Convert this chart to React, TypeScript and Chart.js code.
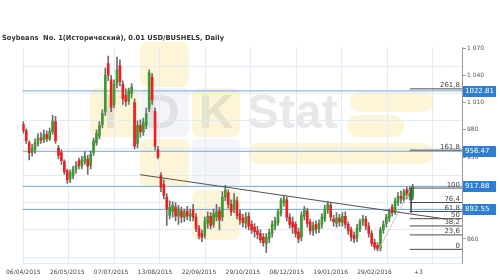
import React, { useEffect, useRef } from 'react';
import { Chart, registerables } from 'chart.js';

Chart.register(...registerables);

const chartTitle = 'Soybeans  No. 1(Исторический), 0.01 USD/BUSHELS, Daily';

// x tick labels (one every 15 candles)
const dateLabels = ['06/04/2015', '26/05/2015', '07/07/2015', '13/08/2015', '22/09/2015', '29/10/2015', '08/12/2015', '19/01/2016', '29/02/2016', '+3'];
const dateLabelIdx = [0, 15, 30, 45, 60, 75, 90, 105, 120, 135];

// candles
const opens = [986, 979, 966, 955, 958, 965, 971, 969, 975, 970, 978, 989, 960, 955, 945, 935, 926, 929, 937, 946, 940, 945, 948, 941, 955, 966, 973, 986, 1000, 1053, 1035, 1008, 1030, 1051, 1030, 1018, 1012, 1020, 1010, 965, 985, 978, 985, 1003, 1038, 1000, 958, 930, 920, 906, 886, 890, 895, 885, 891, 884, 891, 885, 892, 884, 872, 866, 864, 877, 885, 876, 884, 891, 884, 906, 911, 898, 893, 902, 888, 883, 877, 885, 876, 873, 869, 866, 862, 855, 860, 866, 874, 878, 888, 900, 903, 884, 879, 876, 868, 862, 885, 891, 879, 869, 876, 871, 876, 882, 892, 897, 882, 877, 883, 878, 885, 876, 870, 864, 861, 871, 879, 882, 874, 866, 856, 853, 850, 870, 877, 883, 895, 890, 900, 907, 903, 914, 907, 906];
const highs = [989, 981, 968, 964, 970, 976, 977, 980, 979, 982, 996, 995, 963, 958, 947, 937, 936, 940, 945, 949, 951, 956, 952, 957, 971, 980, 989, 1002, 1048, 1061, 1040, 1035, 1060, 1057, 1034, 1025, 1026, 1031, 1014, 990, 991, 993, 1004, 1046, 1042, 1004, 962, 933, 925, 910, 902, 901, 900, 897, 895, 893, 896, 893, 898, 888, 875, 870, 884, 890, 889, 893, 898, 895, 912, 919, 914, 903, 910, 906, 892, 887, 889, 889, 880, 877, 874, 870, 866, 866, 871, 880, 884, 893, 905, 908, 906, 888, 884, 879, 872, 890, 896, 894, 882, 879, 880, 881, 888, 897, 901, 900, 886, 889, 887, 889, 890, 879, 873, 868, 876, 882, 886, 885, 878, 869, 860, 856, 873, 880, 887, 893, 898, 905, 911, 913, 915, 917, 917, 920];
const lows = [976, 965, 947, 951, 954, 962, 965, 966, 967, 968, 975, 965, 948, 942, 931, 921, 922, 926, 932, 937, 937, 942, 931, 937, 952, 963, 970, 982, 996, 1034, 1000, 1004, 1026, 1028, 1008, 1006, 1008, 1015, 959, 960, 972, 974, 981, 1000, 1008, 958, 948, 912, 904, 875, 882, 884, 880, 876, 878, 879, 881, 880, 880, 868, 860, 857, 861, 872, 871, 873, 880, 870, 880, 902, 894, 886, 889, 882, 876, 873, 872, 870, 866, 862, 860, 856, 852, 845, 856, 862, 870, 875, 885, 896, 880, 872, 866, 862, 856, 858, 881, 873, 865, 864, 866, 867, 872, 879, 888, 880, 874, 873, 874, 874, 872, 865, 858, 856, 857, 868, 875, 870, 862, 852, 848, 847, 847, 866, 873, 879, 885, 887, 897, 899, 900, 904, 903, 903];
const closes = [979, 968, 955, 960, 966, 971, 969, 975, 970, 978, 989, 968, 952, 946, 934, 925, 933, 937, 941, 941, 947, 951, 940, 953, 968, 976, 985, 998, 1040, 1040, 1005, 1030, 1046, 1033, 1014, 1011, 1022, 1027, 962, 985, 978, 988, 998, 1043, 1013, 962, 950, 917, 908, 893, 895, 897, 885, 893, 884, 890, 885, 888, 884, 871, 863, 862, 880, 885, 875, 888, 890, 881, 906, 914, 898, 890, 903, 886, 881, 878, 884, 874, 870, 868, 865, 859, 856, 862, 867, 876, 880, 889, 902, 904, 884, 876, 873, 866, 860, 886, 892, 877, 869, 875, 871, 877, 884, 893, 898, 884, 879, 883, 879, 885, 876, 869, 862, 860, 872, 879, 882, 874, 866, 855, 851, 849, 870, 876, 884, 890, 889, 902, 907, 904, 912, 908, 914, 917.88];

// marked price levels (blue lines + labels)
const priceLevels = [1022.81, 956.47, 917.88, 892.55];

// fibonacci tool
const fibLow = 848.6;
const fibHigh = 916.0;
const fibRatios = [0, 23.6, 38.2, 50, 61.8, 76.4, 100, 161.8, 261.8];
const fibStartIdx = 132.0;
const fibAnchorIdx = 132.5;
const fibLowIdx = 121.4;

// trend line
const trendStart = { x: 39.9, y: 930.7 };
const trendEnd = { x: 144.1, y: 882.0 };

// axis ranges & ticks
const xMin = -0.338;
const xMax = 149.86;
const yMin = 833.6;
const yMax = 1071.1;
const yTickValues = [860, 890, 920, 950, 980, 1010, 1040, 1070];
const yGridValues = [840, 870, 900, 930, 960, 990, 1020, 1050];
const xGridValues = [0, 15.55, 31.1, 46.65, 62.2, 77.75, 93.3, 108.85, 124.4, 139.95];

const UP = '#3f9a2e';
const DOWN = '#f01e1e';
const GRID = '#e2ecf6';
const LEVEL = '#72a7db';

function fmtThousands(v: number) {
  return String(v).replace(/\B(?=(\d{3})+(?!\d))/g, ' ');
}

function drawWatermark(ctx: CanvasRenderingContext2D) {
  ctx.save();
  const yellow = 'rgba(252, 241, 200, 0.7)';
  const pale = 'rgba(238, 241, 245, 0.7)';
  const sq = (x: number, y: number, w: number, h: number, c: string) => {
    ctx.beginPath();
    ctx.roundRect(x, y, w, h, 7);
    ctx.fillStyle = c;
    ctx.fill();
  };
  sq(140, 42, 49, 45, yellow);
  sq(90, 88, 49, 49, yellow);
  sq(140, 88, 49, 49, pale);
  sq(192, 88, 48, 49, yellow);
  sq(140, 139, 49, 48, yellow);
  sq(192, 139, 48, 48, pale);
  sq(192, 190, 48, 50, yellow);
  const pill = (x: number, y: number, w: number, h: number) => {
    ctx.beginPath();
    ctx.roundRect(x, y, w, h, h / 2);
    ctx.fillStyle = yellow;
    ctx.fill();
  };
  pill(350, 92, 84, 20);
  pill(347, 115, 57, 22);
  pill(248, 143, 185, 21);
  ctx.fillStyle = 'rgba(150, 150, 150, 0.22)';
  ctx.font = 'bold 48px "Liberation Sans"';
  ctx.textBaseline = 'alphabetic';
  ctx.textAlign = 'left';
  ctx.fillText('I', 104, 128);
  ctx.fillText('D', 145, 128);
  ctx.fillText('K', 199, 128);
  ctx.fillText('Stat', 247, 128);
  ctx.restore();
}

const overlayPlugin = {
  id: 'overlays',
  beforeDraw(chart: any) {
    drawWatermark(chart.ctx);
  },
  afterDraw(chart: any) {
    const ctx: CanvasRenderingContext2D = chart.ctx;
    const ys = chart.scales.y;
    const area = chart.chartArea;
    ctx.save();
    // title
    ctx.fillStyle = '#333';
    ctx.font = 'bold 7px "DejaVu Sans"';
    ctx.textAlign = 'left';
    ctx.textBaseline = 'middle';
    ctx.fillText(chartTitle, 2, 38, 222);
    // fib labels
    ctx.font = '7px "DejaVu Sans"';
    ctx.fillStyle = '#444';
    ctx.textAlign = 'right';
    ctx.textBaseline = 'alphabetic';
    fibRatios.forEach((r) => {
      const v = fibLow + ((fibHigh - fibLow) * r) / 100;
      const y = ys.getPixelForValue(v);
      ctx.fillText(String(r).replace('.', ','), area.right - 2, y - 1.5);
    });
    // price boxes
    ctx.textAlign = 'left';
    ctx.textBaseline = 'middle';
    priceLevels.forEach((p) => {
      const y = ys.getPixelForValue(p);
      ctx.fillStyle = '#2e7fd3';
      ctx.fillRect(area.right + 1, Math.round(y) - 5, 33, 11);
      ctx.fillStyle = '#ffffff';
      ctx.fillText(p.toFixed(2), area.right + 3, Math.round(y) + 0.5);
    });
    ctx.restore();
  },
};

export default function App() {
  const ref = useRef<HTMLCanvasElement | null>(null);
  useEffect(() => {
    document.body.style.margin = '0';
    if (!ref.current) return;
    const idx = closes.map((_, i) => i);
    const wickData = idx.map((i) => ({ x: i, y: [lows[i], highs[i]] }));
    const bodyData = idx.map((i) => ({ x: i, y: [opens[i], closes[i]] }));
    const bodyColors = idx.map((i) => (closes[i] >= opens[i] ? UP : DOWN));
    const levelSets = priceLevels.map((p) => ({
      type: 'line' as const,
      data: [{ x: xMin, y: p }, { x: xMax, y: p }],
      borderColor: LEVEL,
      borderWidth: 1,
      pointRadius: 0,
      fill: false,
      order: 6,
    }));
    const fibSets = fibRatios.map((r) => {
      const v = fibLow + ((fibHigh - fibLow) * r) / 100;
      return {
        type: 'line' as const,
        data: [{ x: fibStartIdx, y: v }, { x: xMax, y: v }],
        borderColor: '#4a4a4a',
        borderWidth: 1,
        pointRadius: 0,
        fill: false,
        order: 2,
      };
    });
    const chart = new Chart(ref.current, {
      type: 'bar',
      data: {
        datasets: [
          ...levelSets,
          {
            type: 'bar',
            data: wickData as any,
            backgroundColor: '#6e6e6e',
            barThickness: 1,
            grouped: false,
            order: 5,
          },
          {
            type: 'bar',
            data: bodyData as any,
            backgroundColor: bodyColors,
            barThickness: 2,
            grouped: false,
            order: 4,
          },
          ...fibSets,
          {
            type: 'line',
            data: [{ x: fibAnchorIdx, y: fibHigh }, { x: fibAnchorIdx, y: 889 }],
            borderColor: '#4a4a4a',
            borderWidth: 1,
            pointRadius: 0,
            order: 2,
          },
          {
            type: 'line',
            data: [{ x: fibLowIdx, y: fibLow }, { x: fibAnchorIdx, y: fibHigh }],
            borderColor: '#c4c4c4',
            borderWidth: 1,
            pointRadius: 0,
            order: 3,
          },
          {
            type: 'line',
            data: [trendStart, trendEnd],
            borderColor: '#505050',
            borderWidth: 1,
            pointRadius: 0,
            order: 1,
          },
        ] as any,
      },
      options: {
        animation: false,
        responsive: false,
        maintainAspectRatio: false,
        layout: { padding: { left: 18, top: 47, right: 0, bottom: 0 } },
        plugins: {
          legend: { display: false },
          tooltip: { enabled: false },
          title: { display: false },
        },
        scales: {
          x: {
            type: 'linear',
            position: 'bottom',
            offset: false,
            min: xMin,
            max: xMax,
            grid: { display: false, drawTicks: false, offset: false },
            border: { display: true, color: GRID },
            afterBuildTicks: (axis: any) => {
              axis.ticks = dateLabelIdx.map((v) => ({ value: v }));
            },
            afterFit: (s: any) => {
              s.height = 17;
            },
            ticks: {
              autoSkip: false,
              maxRotation: 0,
              padding: 6,
              color: '#444',
              font: { family: 'DejaVu Sans', size: 6 },
              callback: (v: any) => {
                const k = dateLabelIdx.indexOf(Number(v));
                return k >= 0 ? dateLabels[k] : '';
              },
            },
          },
          xg: {
            type: 'linear',
            position: 'bottom',
            offset: false,
            min: xMin,
            max: xMax,
            grid: { color: GRID, drawTicks: false, offset: false },
            border: { display: false },
            ticks: { display: false },
            afterBuildTicks: (axis: any) => {
              axis.ticks = xGridValues.map((v) => ({ value: v }));
            },
            afterFit: (s: any) => {
              s.height = 0;
            },
          },
          y: {
            type: 'linear',
            position: 'right',
            min: yMin,
            max: yMax,
            grid: { drawOnChartArea: false, drawTicks: true, tickLength: 4, color: '#9a9a9a' },
            border: { display: true, color: '#9a9a9a' },
            afterBuildTicks: (axis: any) => {
              axis.ticks = yTickValues.map((v) => ({ value: v }));
            },
            afterFit: (s: any) => {
              s.width = 38;
            },
            ticks: {
              padding: 1,
              color: '#555',
              font: { family: 'DejaVu Sans', size: 6 },
              callback: (v: any) => fmtThousands(Number(v)),
            },
          },
          yg: {
            type: 'linear',
            position: 'right',
            min: yMin,
            max: yMax,
            grid: { color: GRID, drawTicks: false },
            border: { display: false },
            ticks: { display: false },
            afterBuildTicks: (axis: any) => {
              axis.ticks = yGridValues.map((v) => ({ value: v }));
            },
            afterFit: (s: any) => {
              s.width = 0;
            },
          },
        },
      } as any,
      plugins: [overlayPlugin],
    });
    return () => chart.destroy();
  }, []);
  return (
    <div style={{ width: 500, height: 280, position: 'relative', background: '#fff' }}>
      <canvas ref={ref} width={500} height={280} style={{ display: 'block', width: 500, height: 280 }} />
    </div>
  );
}
